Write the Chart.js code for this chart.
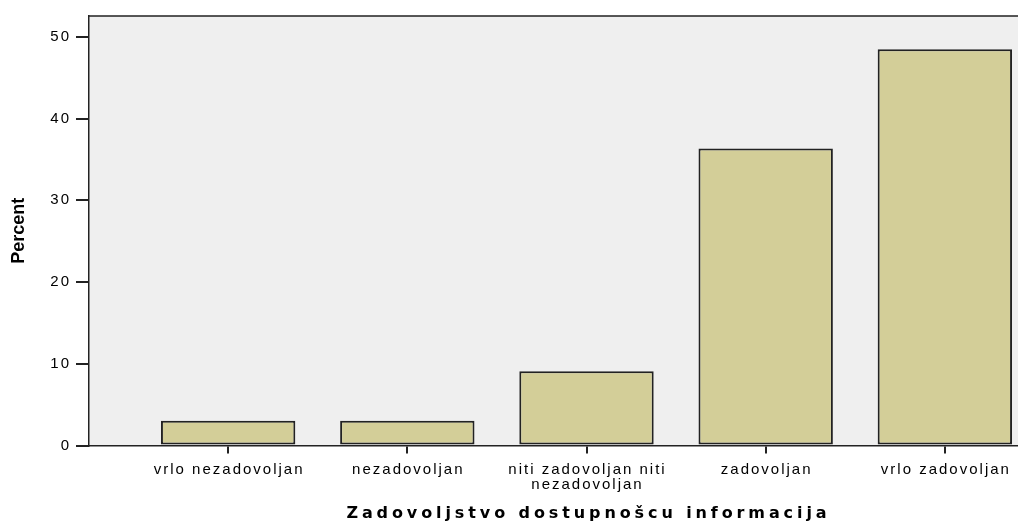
<!DOCTYPE html>
<html>
<head>
<meta charset="utf-8">
<script src="https://cdn.jsdelivr.net/npm/chart.js@4/dist/chart.umd.min.js"></script>
<style>
  html, body { margin: 0; padding: 0; background: #ffffff; overflow: hidden; }
  #wrap { width: 1018px; height: 524px; overflow: hidden; position: relative; }
  canvas { display: block; }
</style>
</head>
<body>
<div id="wrap"><canvas id="c" width="1090" height="524"></canvas></div>
<script>
// ---- data ----
const categories = [
  'vrlo nezadovoljan',
  'nezadovoljan',
  ['niti zadovoljan niti', 'nezadovoljan'],
  'zadovoljan',
  'vrlo zadovoljan'
];
const percent = [3.03, 3.03, 9.09, 36.36, 48.48];
const yTickValues = [0, 10, 20, 30, 40, 50];
const xTitle = 'Zadovoljstvo dostupnošcu informacija';
const yTitle = 'Percent';

const FONT = "'Liberation Sans', Arial, Helvetica, sans-serif";
const TITLE_FONT = "'DejaVu Sans', Verdana, sans-serif";

// letter spacing to mimic the wide SPSS-style text
const spacingPlugin = {
  id: 'spacing',
  beforeInit(chart) {
    const ctx = chart.ctx;
    const orig = ctx.fillText;
    ctx.fillText = function (t, x, y, w) {
      const f = this.font;
      let s = 0;
      if (f.indexOf('16px') >= 0) s = 3.9;
      else if (f.indexOf('15px') >= 0) s = 2;
      const prev = this.letterSpacing;
      this.letterSpacing = s + 'px';
      if (this.textAlign === 'center') x += s / 2;
      else if (this.textAlign === 'right') x += s;
      if (w === undefined) orig.call(this, t, x, y);
      else orig.call(this, t, x, y, w);
      this.letterSpacing = prev;
    };
  }
};

const areaPlugin = {
  id: 'area',
  beforeDraw(chart) {
    const { ctx, chartArea: a } = chart;
    ctx.save();
    ctx.fillStyle = '#efefef';
    ctx.fillRect(a.left, a.top, a.right - a.left, a.bottom - a.top);
    ctx.strokeStyle = '#222222';
    ctx.lineWidth = 1.5;
    ctx.beginPath();
    ctx.moveTo(a.left, a.top);
    ctx.lineTo(a.right, a.top);
    ctx.lineTo(a.right, a.bottom);
    ctx.stroke();
    ctx.restore();
  }
};

const barData = categories.map((c, i) => ({ x: i, y: percent[i] }));

new Chart(document.getElementById('c'), {
  type: 'bar',
  data: {
    datasets: [{
      data: barData,
      backgroundColor: '#d3ce98',
      borderColor: '#222222',
      borderWidth: 2,
      borderSkipped: false,
      barPercentage: 0.75,
      categoryPercentage: 1.0
    }]
  },
  options: {
    responsive: false,
    animation: false,
    devicePixelRatio: 1,
    layout: { padding: { top: 14, right: 6, left: 0, bottom: 0 } },
    plugins: { legend: { display: false }, tooltip: { enabled: false } },
    scales: {
      x: {
        type: 'linear',
        position: 'bottom',
        offset: false,
        min: -0.7765,
        max: 4.7765,
        afterBuildTicks(scale) { scale.ticks = categories.map((c, i) => ({ value: i })); },
        afterFit(scale) { scale.height = 78.5; },
        grid: { display: true, offset: false, drawOnChartArea: false, drawTicks: true, tickLength: 8, color: '#222222', lineWidth: 2 },
        border: { display: true, color: '#222222', width: 1.5 },
        ticks: {
          autoSkip: false,
          maxRotation: 0,
          minRotation: 0,
          padding: 8,
          color: '#000000',
          font: { family: FONT, size: 15, lineHeight: 1.05 },
          callback: (v) => categories[v]
        },
        title: {
          display: true,
          text: xTitle,
          color: '#000000',
          font: { family: TITLE_FONT, size: 16, weight: 'bold', lineHeight: 1.3 },
          padding: { top: 0, bottom: 0 }
        }
      },
      y: {
        min: 0,
        max: 52.56,
        afterBuildTicks(scale) { scale.ticks = yTickValues.map(v => ({ value: v })); },
        afterFit(scale) { scale.width = 89; },
        grid: { display: true, drawOnChartArea: false, drawTicks: true, tickLength: 13, color: '#222222', lineWidth: 2 },
        border: { display: true, color: '#222222', width: 1.5 },
        ticks: {
          padding: 7,
          color: '#000000',
          font: { family: FONT, size: 15 }
        },
        title: {
          display: true,
          text: yTitle,
          color: '#000000',
          font: { family: FONT, size: 18, weight: 'bold', lineHeight: 1.2 },
          padding: { top: 8, bottom: 0 }
        }
      }
    }
  },
  plugins: [spacingPlugin, areaPlugin]
});
</script>
</body>
</html>
